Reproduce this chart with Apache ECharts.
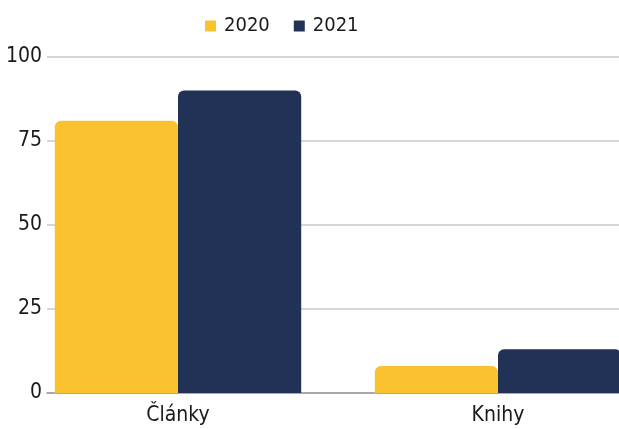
<!DOCTYPE html>
<html>
<head>
<meta charset="utf-8">
<script src="https://cdn.jsdelivr.net/npm/echarts@6/dist/echarts.min.js"></script>
<style>html,body{margin:0;padding:0;background:#fff;}#c{width:619px;height:429px;}</style>
</head>
<body>
<div id="c"></div>
<script>
const categories = ['Články', 'Knihy'];
const seriesNames = ['2020', '2021'];
const values2020 = [81, 8];
const values2021 = [90, 13];
const yTicks = [0, 25, 50, 75, 100];

const FONT = '"Liberation Sans Narrow", "DejaVu Sans Condensed", "Noto Sans", sans-serif';
const chart = echarts.init(document.getElementById('c'), null, {renderer: 'canvas'});
chart.setOption({
  backgroundColor: '#fff',
  animation: false,
  textStyle: {fontFamily: FONT},
  legend: {
    left: 200, top: 11,
    itemWidth: 11, itemHeight: 11, itemGap: 24,
    icon: 'rect',
    textStyle: {fontSize: 20, color: '#1a1a1a', fontFamily: FONT, padding: [0, 0, 0, 3]},
    data: seriesNames
  },
  grid: [
    {left: 47, right: 0, top: 57, bottom: 36, outerBoundsMode: 'none'},
    {left: 18, right: -39, top: 57, bottom: 36, outerBoundsMode: 'none'}
  ],
  xAxis: [
    {gridIndex: 0, type: 'category', data: categories,
     axisLine: {show: true, lineStyle: {color: '#999', width: 1.5}},
     axisTick: {show: false}, axisLabel: {show: false}},
    {gridIndex: 1, type: 'category', data: categories,
     axisLine: {show: false}, axisTick: {show: false},
     axisLabel: {fontSize: 21, color: '#1a1a1a', margin: 12, fontFamily: FONT}}
  ],
  yAxis: [
    {gridIndex: 0, type: 'value', min: yTicks[0], max: yTicks[yTicks.length - 1], interval: 25,
     axisLine: {show: false}, axisTick: {show: false},
     axisLabel: {fontSize: 21, color: '#1a1a1a', margin: 5, fontFamily: FONT},
     splitLine: {lineStyle: {color: '#c8c8c8', width: 1.5}}},
    {gridIndex: 1, type: 'value', min: yTicks[0], max: yTicks[yTicks.length - 1], interval: 25,
     show: false, splitLine: {show: false}}
  ],
  series: [
    {name: seriesNames[0], type: 'bar', xAxisIndex: 1, yAxisIndex: 1, data: values2020,
     barGap: '0%', barCategoryGap: '23%',
     itemStyle: {color: '#F9C22E', borderRadius: [6, 6, 0, 0]}},
    {name: seriesNames[1], type: 'bar', xAxisIndex: 1, yAxisIndex: 1, data: values2021,
     barGap: '0%', barCategoryGap: '23%',
     itemStyle: {color: '#213256', borderRadius: [6, 6, 0, 0]}}
  ]
});
</script>
</body>
</html>
